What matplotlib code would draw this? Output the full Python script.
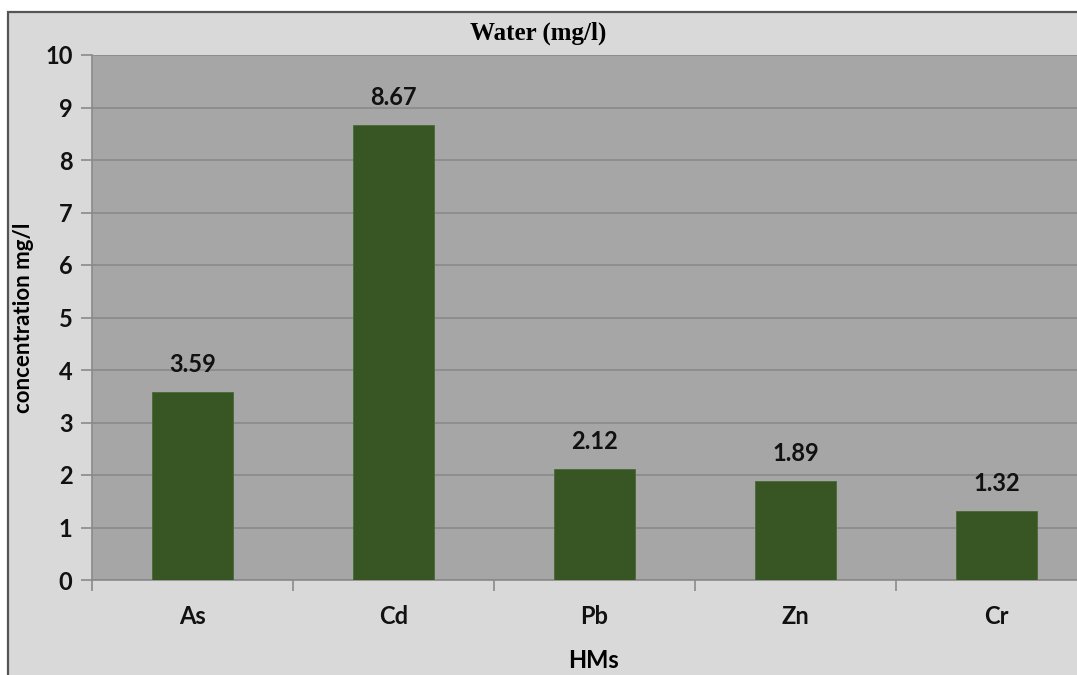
import matplotlib.pyplot as plt
from matplotlib.patches import Rectangle

# Data
metals = ["As", "Cd", "Pb", "Zn", "Cr"]
concentrations = [3.59, 8.67, 2.12, 1.89, 1.32]
y_ticks = list(range(0, 11))

W, H = 1077, 675
fig = plt.figure(figsize=(W / 100, H / 100), dpi=100)
fig.patch.set_facecolor("white")

# Outer chart frame (cropped at the right and bottom like the original)
frame = Rectangle((8 / W, -0.05), 1.2, 1 - 12 / H + 0.05, transform=fig.transFigure,
                  facecolor="#d9d9d9", edgecolor="#555555", linewidth=1.6, zorder=-1)
fig.patches.append(frame)

# plot area runs a bit past the right edge of the image
ax = fig.add_axes([92 / W, 95 / H, 1005 / W, 525 / H])
ax.set_zorder(2)
ax.set_facecolor("#a6a6a6")

x = range(len(metals))
ax.bar(x, concentrations, width=0.4, color="#375623", edgecolor="#4a6a35",
       linewidth=0.6, zorder=3)

for xi, v in zip(x, concentrations):
    ax.text(xi, v + 0.3, f"{v:.2f}", ha="center", va="bottom",
            fontsize=17, fontweight="bold", family="Lato", color="#111111")

ax.set_xlim(-0.5, len(metals) - 0.5)
ax.set_ylim(0, 10)
ax.set_yticks(y_ticks)
ax.yaxis.grid(True, color="#8a8a8a", linewidth=1.2, zorder=1)
ax.set_axisbelow(True)

ax.set_xticks(list(x))
ax.set_xticklabels(metals)
ax.set_xticks([i + 0.5 for i in range(-1, len(metals))], minor=True)
ax.tick_params(axis="x", which="major", length=0, pad=18)
ax.tick_params(axis="x", which="minor", length=8, color="#8a8a8a", width=1.2)
ax.tick_params(axis="y", length=8, color="#8a8a8a", width=1.2, pad=6)

for lab in ax.get_xticklabels() + ax.get_yticklabels():
    lab.set_fontsize(17)
    lab.set_fontweight("bold")
    lab.set_family("Lato")
    lab.set_color("#111111")

for side in ["top", "right"]:
    ax.spines[side].set_visible(False)
for side in ["left", "bottom"]:
    ax.spines[side].set_color("#8a8a8a")
    ax.spines[side].set_linewidth(1.2)

ax.set_ylabel("concentration mg/l", fontsize=16, fontweight="bold", family="Lato",
              labelpad=8)
fig.text(593 / W, 1 - 660 / H, "HMs", ha="center", va="center", fontsize=17,
         fontweight="bold", family="Lato")
fig.text(538 / W, 1 - 33 / H, "Water (mg/l)", ha="center", va="center", fontsize=18,
         fontweight="bold", family="Liberation Serif")

fig.savefig("out.png", dpi=100, facecolor=fig.get_facecolor())
